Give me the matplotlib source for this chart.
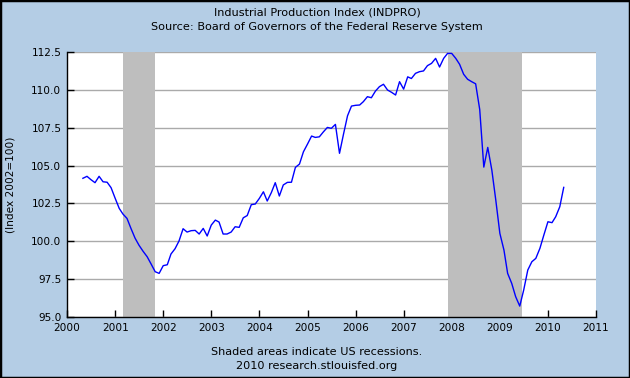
"""
Industrial Production Index (INDPRO), FRED style chart.
"""

# Imports #
import numpy as np
import pandas as pd
import matplotlib
matplotlib.use("Agg")
from matplotlib import pyplot as plt
from matplotlib import dates as mdates
from matplotlib.patches import Rectangle

# Data #
start_month = "2000-05-01"
indpro = [
    104.16, 104.29, 104.07, 103.87, 104.29, 103.93, 103.90, 103.54, 102.84, 102.17,
    101.80, 101.51, 100.85, 100.21, 99.74, 99.34, 98.98, 98.50, 97.99, 97.88,
    98.39, 98.45, 99.16, 99.51, 100.02, 100.83, 100.61, 100.70, 100.72, 100.48,
    100.85, 100.35, 101.07, 101.40, 101.27, 100.48, 100.48, 100.61, 100.96, 100.92,
    101.55, 101.70, 102.42, 102.46, 102.83, 103.27, 102.66, 103.21, 103.87, 102.99,
    103.72, 103.89, 103.90, 104.88, 105.10, 105.91, 106.42, 106.95, 106.86, 106.90,
    107.22, 107.52, 107.46, 107.72, 105.81, 107.06, 108.29, 108.93, 108.98, 109.00,
    109.22, 109.55, 109.48, 109.92, 110.21, 110.37, 109.99, 109.84, 109.66, 110.54,
    110.05, 110.86, 110.75, 111.09, 111.20, 111.25, 111.60, 111.75, 112.08, 111.51,
    112.08, 112.41, 112.41, 112.08, 111.69, 111.03, 110.70, 110.54, 110.40, 108.70,
    104.90, 106.20, 104.70, 102.72, 100.52, 99.42, 97.88, 97.22, 96.34, 95.72,
    96.78, 98.10, 98.65, 98.87, 99.53, 100.41, 101.29, 101.23, 101.62, 102.28,
    103.56,
]
recessions = [("2001-03-01", "2001-11-01"), ("2007-12-01", "2009-06-15")]
y_ticks = [95.0, 97.5, 100.0, 102.5, 105.0, 107.5, 110.0, 112.5]

bg = "#B4CDE5"

dates = pd.date_range(start_month, periods=len(indpro), freq="MS")

fig = plt.figure(figsize=(6.3, 3.78), dpi=100, facecolor=bg)
ax = fig.add_axes([0.1063, 0.1614, 0.8397, 0.701])
ax.set_facecolor("white")

for start, end in recessions:
    ax.axvspan(pd.Timestamp(start), pd.Timestamp(end), color="#BEBEBE", lw=0, zorder=1)

ax.set_yticks(y_ticks)
ax.yaxis.grid(True, color="#AAAAAA", lw=1, zorder=2)
ax.set_axisbelow(True)
ax.plot(dates, indpro, color="#0000FF", lw=1, zorder=3)

ax.set_xlim(pd.Timestamp("2000-01-01"), pd.Timestamp("2011-01-01"))
ax.set_ylim(95.0, 112.5)
ax.xaxis.set_major_locator(mdates.YearLocator())
ax.xaxis.set_major_formatter(mdates.DateFormatter("%Y"))
ax.yaxis.set_major_formatter(matplotlib.ticker.FormatStrFormatter("%.1f"))
ax.tick_params(direction="in", length=5, width=1, labelsize=7.6, colors="black",
               pad=4)

for side in ("top", "right"):
    ax.spines[side].set_visible(False)
for side in ("left", "bottom"):
    ax.spines[side].set_color("black")
    ax.spines[side].set_linewidth(1)

ax.set_ylabel("(Index 2002=100)", fontsize=7.6, labelpad=11)

fig.text(0.503, 0.968, "Industrial Production Index (INDPRO)", ha="center", va="center", fontsize=8.1)
fig.text(0.503, 0.928, "Source: Board of Governors of the Federal Reserve System", ha="center",
         va="center", fontsize=8.1)
fig.text(0.503, 0.070, "Shaded areas indicate US recessions.", ha="center", va="center", fontsize=8.1)
fig.text(0.503, 0.031, "2010 research.stlouisfed.org", ha="center", va="center", fontsize=8.1)

fig.patches.append(Rectangle((0, 0), 1, 1, transform=fig.transFigure, fill=False,
                             edgecolor="black", lw=2.5))

fig.savefig("out.png", dpi=100, facecolor=bg)
